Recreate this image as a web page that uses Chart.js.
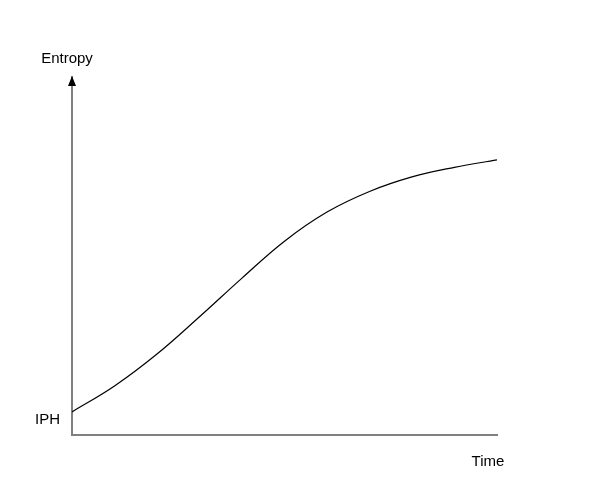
<!DOCTYPE html>
<html>
<head>
<meta charset="utf-8">
<script src="https://cdn.jsdelivr.net/npm/chart.js@4"></script>
<style>
    body { margin: 0; background: #fff; }
    #wrap { width: 600px; height: 500px; }
</style>
</head>
<body>
<div id="wrap"><canvas id="entropy-chart" width="600" height="500"></canvas></div>
<script>
// data
const timeValues = [0, 10, 20, 30, 40, 50, 60, 70, 80, 90, 100];
const entropyValues = [6.5, 13.8, 22.8, 33.3, 44.2, 54.6, 62.8, 68.6, 72.7, 75.4, 77.5];
const yTickValues = [4.2];
const yTickLabels = ["IPH"];
const xAxisLabel = "Time";
const yAxisLabel = "Entropy";

const axisColor = "#808080";
const fontFamily = '"Liberation Sans", Arial, sans-serif';
const labelFont = "15px " + fontFamily;

// arrow + axis captions
const axisDecor = {
    id: "axisDecor",
    afterDraw(chart) {
        const { ctx, chartArea } = chart;
        const x0 = chartArea.left;
        ctx.save();
        ctx.strokeStyle = axisColor;
        ctx.lineWidth = 2;
        ctx.beginPath();
        ctx.moveTo(x0, chartArea.top);
        ctx.lineTo(x0, chartArea.top - 4);
        ctx.stroke();

        ctx.fillStyle = "#000";
        ctx.beginPath();
        ctx.moveTo(x0, chartArea.top - 4);
        ctx.lineTo(x0 - 4, chartArea.top + 6);
        ctx.lineTo(x0 + 4, chartArea.top + 6);
        ctx.closePath();
        ctx.fill();

        ctx.font = labelFont;
        ctx.textAlign = "center";
        ctx.textBaseline = "middle";
        ctx.fillText(yAxisLabel, x0 - 5, chartArea.top - 21);
        ctx.fillText(xAxisLabel, chartArea.right - 9, chartArea.bottom + 27);
        ctx.restore();
    },
};

new Chart(document.getElementById("entropy-chart").getContext("2d"), {
    type: "line",
    data: {
        datasets: [
            {
                data: timeValues.map((t, i) => ({ x: t, y: entropyValues[i] })),
                borderColor: "#000",
                borderWidth: 1.2,
                pointRadius: 0,
                tension: 0.4,
                fill: false,
            },
        ],
    },
    options: {
        responsive: false,
        animation: false,
        layout: { padding: { top: 80, right: 103, left: 0, bottom: 0 } },
        plugins: {
            legend: { display: false },
            tooltip: { enabled: false },
        },
        scales: {
            x: {
                type: "linear",
                min: 0,
                max: 100,
                grid: { display: false, drawTicks: false },
                border: { color: axisColor, width: 2 },
                ticks: { display: false },
                afterFit(scale) {
                    scale.height = 65;
                },
            },
            y: {
                type: "linear",
                min: 0,
                max: 100,
                grid: { display: false, drawTicks: false },
                border: { color: axisColor, width: 2 },
                afterBuildTicks(scale) {
                    scale.ticks = yTickValues.map((v) => ({ value: v }));
                },
                ticks: {
                    padding: 12,
                    color: "#000",
                    font: { family: fontFamily, size: 15 },
                    callback: (v, i) => yTickLabels[i],
                },
                afterFit(scale) {
                    scale.width = 72;
                },
            },
        },
    },
    plugins: [axisDecor],
});
</script>
</body>
</html>
